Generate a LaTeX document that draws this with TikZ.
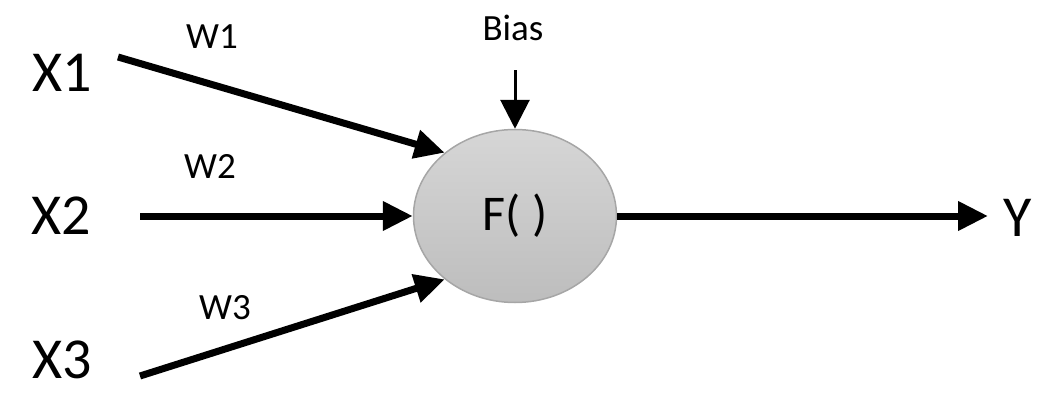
\documentclass[tikz,border=0pt]{standalone}
\usepackage{fontspec}
\setmainfont{Carlito}
\usepackage{xcolor}
\usepackage{tikz}
\usetikzlibrary{arrows.meta,shapes.geometric}
\definecolor{fill top}{HTML}{D6D6D6}
\definecolor{fill bot}{HTML}{BDBDBD}
\definecolor{rim}{HTML}{A6A6A6}
\tikzset{
  wire/.style={draw=black, line width=7pt, -{Triangle[length=30pt,width=28pt]}},
  thin wire/.style={draw=black, line width=3pt, -{Triangle[length=29pt,width=29pt]}},
  unit/.style={ellipse, draw=rim, line width=1.5pt, top color=fill top, bottom color=fill bot,
    minimum width=203pt, minimum height=173pt, inner sep=0pt, font=\fontsize{50}{52}\selectfont},
  var/.style={font=\fontsize{58}{60}\selectfont, inner sep=0pt},
  wlab/.style={font=\fontsize{37}{39}\selectfont, inner sep=0pt},
}

\begin{document}
\begin{tikzpicture}[x=1pt,y=-1pt]
  \useasboundingbox (0,0) rectangle (1052,407);

  \node[unit] (f) at (515,216) {F( )};

  \node[var] (x1) at (62,73) {X1};
  \node[var] (x2) at (61,216) {X2};
  \node[var] (x3) at (62,360) {X3};
  \node[var] (y) at (1018,218) {Y};

  \node[wlab] (w1) at (212,37) {W1};
  \node[wlab] (w2) at (210,166) {W2};
  \node[wlab] (w3) at (225,308) {W3};
  \node[wlab] (bias) at (513,28) {Bias};

  \coordinate (s1) at (118,57);
  \coordinate (s2) at (140,216);
  \coordinate (s3) at (140,376);
  \coordinate (sb) at (515,70);
  \coordinate (ey) at (988,216);

  \draw[wire] (s1) -- (f.138);
  \draw[wire] (s2) -- (f.west);
  \draw[wire] (s3) -- (f.222);
  \draw[thin wire] (sb) -- (f.north);
  \draw[wire] (f.east) -- (ey);
\end{tikzpicture}
\end{document}
